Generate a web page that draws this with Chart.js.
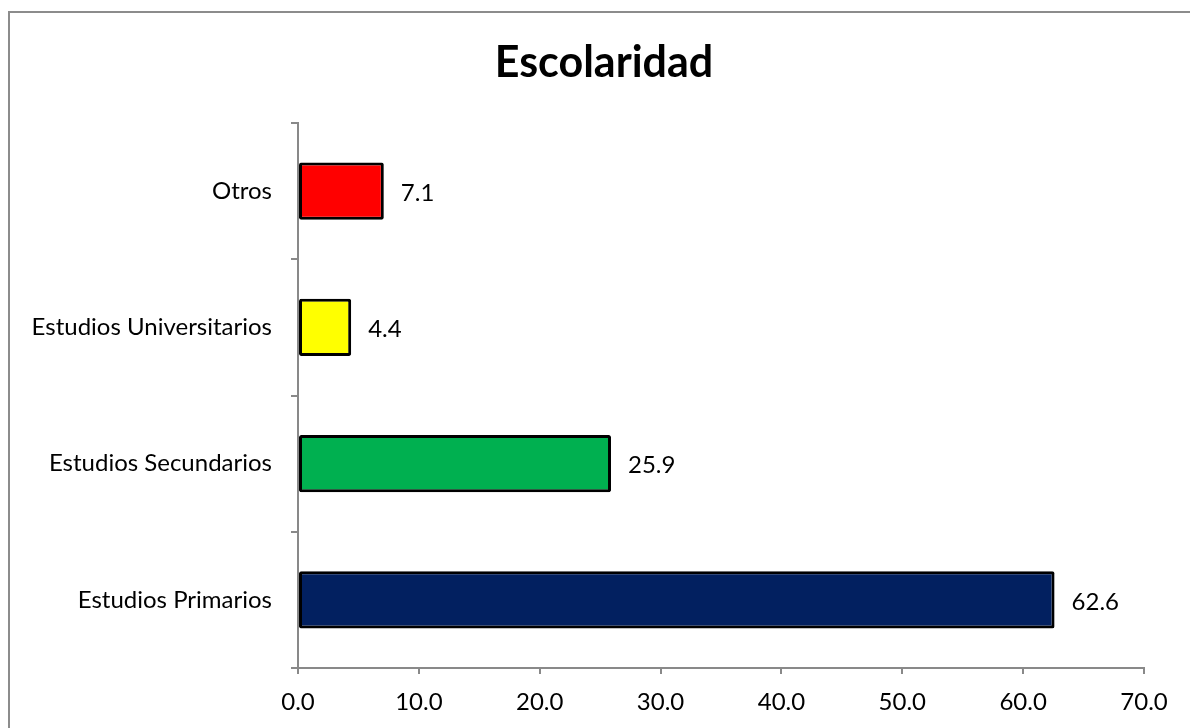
<!DOCTYPE html>
<html>
<head>
  <meta charset="UTF-8">
  <title>Escolaridad</title>
  <script src="https://cdn.jsdelivr.net/npm/chart.js"></script>
  <style>
    body { margin: 0; background: #fff; }
    #marco { position: absolute; left: 8px; top: 11px; width: 1300px; height: 900px; border: 2px solid #8c8c8c; }
    #caja { position: absolute; left: 0; top: 0; width: 1190px; height: 728px; }
  </style>
</head>
<body>
  <div id="marco"></div>
  <div id="caja"><canvas id="chart" width="1190" height="728"></canvas></div>
  <script>
    // Datos del gráfico (orden original de la hoja)
    const categorias = ["Estudios Primarios", "Estudios Secundarios", "Estudios Universitarios", "Otros"];
    const porcentajes = [62.6, 25.9, 4.4, 7.1];
    const colores = ["#022060", "#00B050", "#FFFF00", "#FF0000"];
    const ticksX = [0, 10, 20, 30, 40, 50, 60, 70];

    const fuente = "Lato, 'Liberation Sans', sans-serif";

    // Etiquetas de valor a la derecha de cada barra
    const etiquetas = {
      id: "etiquetas",
      afterLayout(chart) {
        // el título de Excel está centrado un poco más a la derecha
        if (chart.titleBlock) chart.titleBlock.left += 54;
      },
      afterDatasetsDraw(chart) {
        const ctx = chart.ctx;
        const meta = chart.getDatasetMeta(0);
        ctx.save();
        ctx.font = "24px " + fuente;
        ctx.fillStyle = "#000";
        ctx.textAlign = "left";
        ctx.textBaseline = "middle";
        meta.data.forEach((bar, i) => {
          ctx.fillText(porcentajes[i].toFixed(1), bar.x + 17, bar.y + 2);
        });
        ctx.restore();
      }
    };

    new Chart(document.getElementById("chart"), {
      type: "bar",
      data: {
        labels: categorias,
        datasets: [{
          data: porcentajes,
          backgroundColor: colores,
          borderColor: "#000",
          borderWidth: 3,
          borderSkipped: false,
          borderRadius: 2,
          barPercentage: 0.42,
          categoryPercentage: 1
        }]
      },
      options: {
        indexAxis: "y",
        responsive: false,
        animation: false,
        layout: { padding: { left: 10, right: 46, top: 0, bottom: 0 } },
        plugins: {
          legend: { display: false },
          tooltip: { enabled: false },
          title: {
            display: true,
            text: "Escolaridad",
            color: "#000",
            font: { family: fuente, size: 43, weight: "bold", lineHeight: 1.2 },
            padding: { top: 37, bottom: 34.4 }
          }
        },
        scales: {
          x: {
            min: 0,
            max: 70,
            afterBuildTicks: (s) => { s.ticks = ticksX.map(v => ({ value: v })); },
            afterFit: (s) => { s.height = 60; },
            border: { display: true, color: "#898989", width: 2 },
            grid: { drawOnChartArea: false, drawTicks: true, tickLength: 6, color: "#898989", lineWidth: 2 },
            ticks: {
              color: "#000",
              padding: 14,
              font: { family: fuente, size: 24 },
              callback: (v) => Number(v).toFixed(1)
            }
          },
          y: {
            reverse: true,
            afterFit: (s) => { s.width = 288; },
            border: { display: true, color: "#898989", width: 2 },
            grid: { offset: true, drawOnChartArea: false, drawTicks: true, tickLength: 7, color: "#898989", lineWidth: 2 },
            ticks: {
              color: "#000",
              padding: 19,
              font: { family: fuente, size: 24 }
            }
          }
        }
      },
      plugins: [etiquetas]
    });
  </script>
</body>
</html>
